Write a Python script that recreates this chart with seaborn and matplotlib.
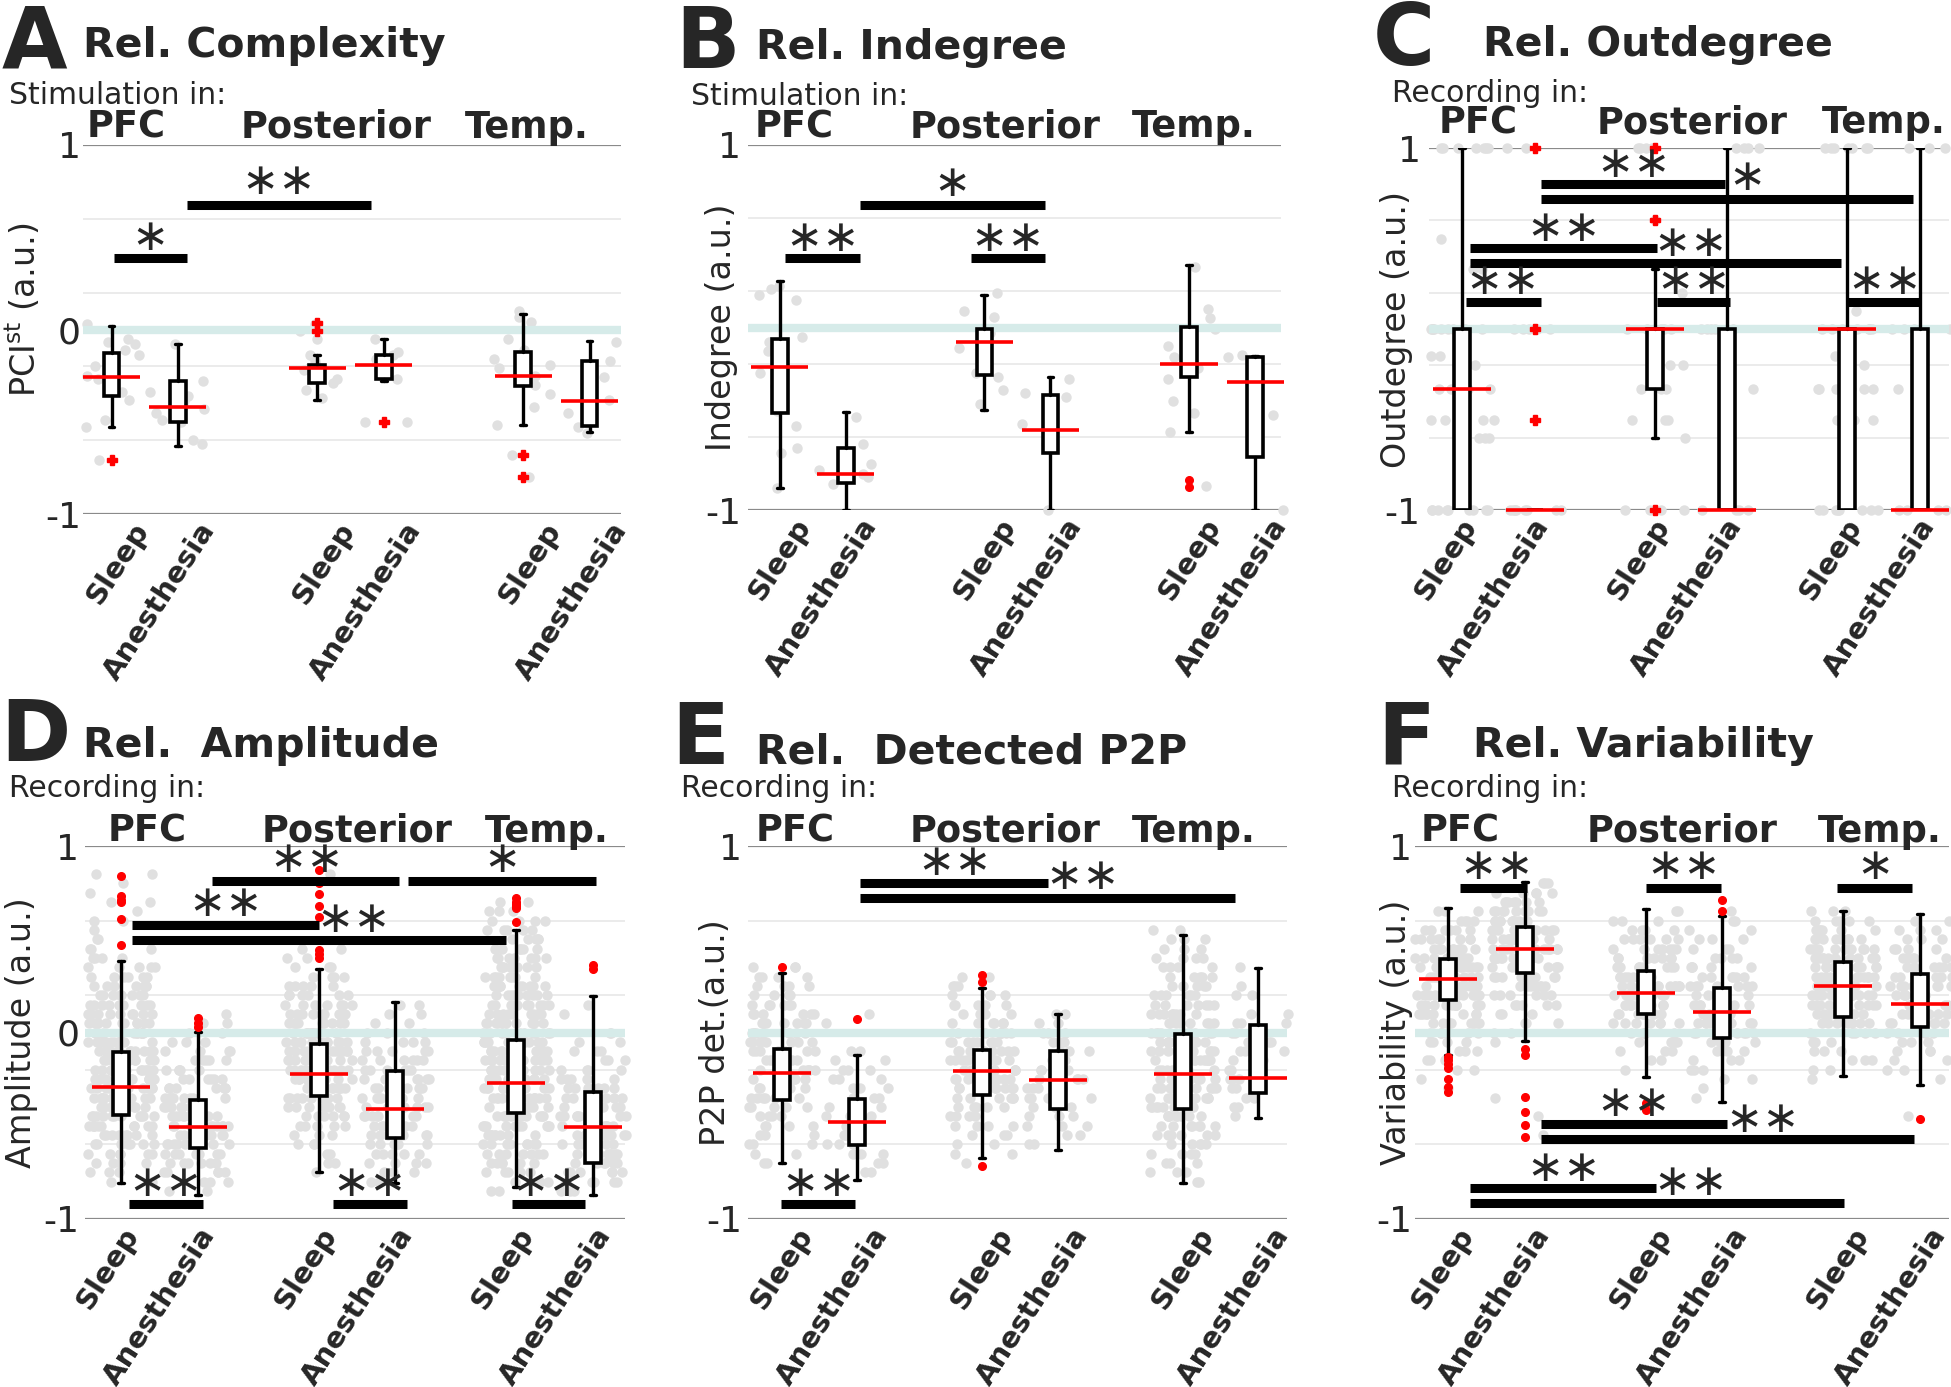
import numpy as np
import pandas as pd
import matplotlib
matplotlib.use("Agg")
import matplotlib.pyplot as plt
import seaborn as sns

W, H = 1951, 1387

CONDITIONS = ['Sleep', 'Anesthesia', 'Sleep', 'Anesthesia', 'Sleep', 'Anesthesia']
REGIONS = ['PFC', 'Posterior', 'Temp.']

# ---------------- A: Rel. Complexity (PCIst) ----------------
A_MED = [-0.26, -0.42, -0.21, -0.19, -0.25, -0.385]
A_Q1 = [-0.36, -0.50, -0.29, -0.27, -0.305, -0.525]
A_Q3 = [-0.13, -0.28, -0.19, -0.14, -0.12, -0.17]
A_WLO = [-0.53, -0.63, -0.38, -0.28, -0.52, -0.555]
A_WHI = [0.02, -0.08, -0.14, -0.05, 0.085, -0.06]
A_FLIERS = [[-0.71], [], [0.035, -0.01], [-0.50], [-0.68, -0.80], []]
A_DOTS = [
    [0.03, -0.05, -0.07, -0.11, -0.14, -0.18, -0.22, -0.25, -0.27, -0.31, -0.34, -0.38, -0.49, -0.53, -0.71, -0.08, -0.20],
    [-0.08, -0.28, -0.34, -0.39, -0.43, -0.49, -0.50, -0.62, -0.45, -0.32, -0.60, -0.36],
    [0.03, -0.01, -0.05, -0.14, -0.19, -0.21, -0.27, -0.29, -0.33, -0.37, -0.22, -0.17],
    [-0.05, -0.14, -0.16, -0.21, -0.27, -0.22, -0.50, -0.50, -0.12],
    [0.10, 0.07, 0.04, -0.11, -0.14, -0.16, -0.21, -0.25, -0.27, -0.30, -0.35, -0.42, -0.52, -0.68, -0.80, -0.05, -0.19],
    [-0.07, -0.17, -0.29, -0.38, -0.45, -0.53, -0.56, -0.26],
]
A_BARS = [(1.03, 2.13, 0.39, 1.58, 0.50, '*'), (2.13, 4.91, 0.677, 3.52, 0.80, '**')]

# ---------------- B: Rel. Indegree ----------------
B_MED = [-0.215, -0.805, -0.077, -0.56, -0.20, -0.30]
B_Q1 = [-0.47, -0.85, -0.26, -0.69, -0.27, -0.71]
B_Q3 = [-0.064, -0.66, -0.01, -0.37, 0.005, -0.16]
B_WLO = [-0.88, -1.0, -0.45, -1.0, -0.57, -1.0]
B_WHI = [0.254, -0.465, 0.18, -0.27, 0.34, -0.155]
B_FLIERS = [[], [], [], [], [-0.835, -0.875], []]
B_DOTS = [
    [0.23, 0.18, 0.21, -0.08, -0.13, -0.25, -0.32, -0.46, -0.54, -0.66, -0.69, -0.88, 0.15, -0.05],
    [-0.49, -0.64, -0.75, -0.78, -0.82, -0.86, -0.68, -0.80],
    [0.19, 0.09, 0.06, -0.11, -0.25, -0.34, -0.42, -0.03, -0.27],
    [-0.28, -0.38, -0.53, -0.64, -1.0, -0.36, -0.60],
    [0.33, 0.10, -0.01, -0.10, -0.16, -0.22, -0.28, -0.40, -0.47, -0.57, -0.87, 0.05],
    [-0.16, -0.20, -0.48, -1.0, -0.15],
]
B_BARS = [(1.08, 2.21, 0.38, 1.645, 0.49, '**'), (2.21, 5.02, 0.67, 3.6, 0.79, '*'),
          (3.89, 5.02, 0.38, 4.45, 0.49, '**')]

# ---------------- C: Rel. Outdegree (discrete levels, value/count) ----------------
C_MED = [-0.33, -1.0, 0.0, -1.0, 0.0, -1.0]
C_Q1 = [-1.0, -1.0, -0.33, -1.0, -1.0, -1.0]
C_Q3 = [0.0, -1.0, 0.0, 0.0, 0.0, 0.0]
C_WLO = [-1.0, -1.0, -0.6, -1.0, -1.0, -1.0]
C_WHI = [1.0, -1.0, 0.33, 1.0, 1.0, 1.0]
C_FLIERS = [[], [1.0, 0.0, -0.5], [1.0, 0.6, -1.0], [], [], []]
C_DOTS = [
    [(1, 7), (0.5, 1), (0.33, 2), (0, 9), (-0.15, 2), (-0.2, 3), (-0.33, 4), (-0.5, 4), (-0.6, 4), (-1, 9)],
    [(1, 2), (0, 6), (-1, 8)],
    [(1, 4), (0.6, 1), (0.2, 1), (0, 5), (-0.2, 2), (-0.33, 3), (-0.5, 3), (-0.6, 1), (-1, 4)],
    [(1, 4), (0, 5), (-0.33, 2), (-0.5, 1), (-1, 4)],
    [(1, 7), (0.1, 1), (0, 7), (-0.15, 1), (-0.2, 3), (-0.33, 6), (-0.5, 4), (-1, 8)],
    [(1, 3), (0, 4), (-0.33, 1), (-1, 4)],
]
C_BARS = [(2.08, 4.62, 0.80, 3.36, 0.91, '**'), (2.08, 7.21, 0.72, 4.92, 0.835, '*'),
          (1.11, 3.68, 0.448, 2.39, 0.553, '**'), (1.11, 6.22, 0.364, 4.15, 0.47, '**'),
          (1.05, 2.08, 0.148, 1.56, 0.26, '**'), (3.68, 4.69, 0.148, 4.19, 0.264, '**'),
          (6.30, 7.32, 0.148, 6.81, 0.264, '**')]

# ---------------- D: Rel. Amplitude (binned value/count) ----------------
D_MED = [-0.29, -0.505, -0.22, -0.41, -0.27, -0.505]
D_Q1 = [-0.44, -0.62, -0.34, -0.565, -0.43, -0.70]
D_Q3 = [-0.106, -0.36, -0.06, -0.205, -0.04, -0.32]
D_WLO = [-0.805, -0.87, -0.75, -0.805, -0.83, -0.87]
D_WHI = [0.383, 0.005, 0.343, 0.165, 0.55, 0.195]
D_FLIERS = [[0.84, 0.73, 0.71, 0.70, 0.61, 0.47], [0.08, 0.05, 0.03],
            [0.87, 0.80, 0.74, 0.68, 0.62, 0.44, 0.42, 0.40], [],
            [0.72, 0.70, 0.69, 0.68, 0.67, 0.59], [0.36, 0.34]]
D_DOTS = [
    [(0.85, 2), (0.8, 1), (0.75, 1), (0.7, 2), (0.65, 1), (0.6, 2), (0.55, 1), (0.5, 2), (0.45, 3), (0.4, 4),
     (0.35, 5), (0.3, 6), (0.25, 7), (0.2, 8), (0.15, 9), (0.1, 9), (0.05, 10), (0.0, 11), (-0.05, 11),
     (-0.1, 12), (-0.15, 12), (-0.2, 13), (-0.25, 13), (-0.3, 13), (-0.35, 12), (-0.4, 12), (-0.45, 11),
     (-0.5, 10), (-0.55, 9), (-0.6, 7), (-0.65, 6), (-0.7, 4), (-0.75, 3), (-0.8, 2)],
    [(0.1, 1), (0.05, 2), (0.0, 2), (-0.05, 3), (-0.1, 4), (-0.15, 5), (-0.2, 5), (-0.25, 6), (-0.3, 7),
     (-0.35, 8), (-0.4, 8), (-0.45, 9), (-0.5, 9), (-0.55, 9), (-0.6, 8), (-0.65, 8), (-0.7, 6), (-0.75, 5),
     (-0.8, 3), (-0.85, 2)],
    [(0.85, 1), (0.45, 2), (0.4, 2), (0.35, 3), (0.3, 4), (0.25, 5), (0.2, 6), (0.15, 7), (0.1, 8),
     (0.05, 9), (0.0, 10), (-0.05, 11), (-0.1, 11), (-0.15, 11), (-0.2, 11), (-0.25, 11), (-0.3, 10),
     (-0.35, 9), (-0.4, 7), (-0.45, 6), (-0.5, 5), (-0.55, 3), (-0.6, 3), (-0.65, 2), (-0.7, 2), (-0.75, 1)],
    [(0.15, 2), (0.1, 2), (0.05, 2), (0.0, 3), (-0.05, 4), (-0.1, 5), (-0.15, 6), (-0.2, 6), (-0.25, 7),
     (-0.3, 8), (-0.35, 8), (-0.4, 8), (-0.45, 8), (-0.5, 8), (-0.55, 7), (-0.6, 6), (-0.65, 5), (-0.7, 4),
     (-0.75, 3), (-0.8, 2)],
    [(0.7, 2), (0.65, 3), (0.6, 4), (0.55, 5), (0.5, 5), (0.45, 6), (0.4, 7), (0.35, 8), (0.3, 8),
     (0.25, 9), (0.2, 9), (0.15, 9), (0.1, 10), (0.05, 10), (0.0, 10), (-0.05, 11), (-0.1, 11), (-0.15, 11),
     (-0.2, 12), (-0.25, 12), (-0.3, 12), (-0.35, 12), (-0.4, 11), (-0.45, 11), (-0.5, 10), (-0.55, 9),
     (-0.6, 8), (-0.65, 7), (-0.7, 6), (-0.75, 5), (-0.8, 3), (-0.85, 2)],
    [(0.15, 1), (0.1, 1), (0.0, 2), (-0.05, 2), (-0.1, 3), (-0.15, 3), (-0.2, 4), (-0.25, 5), (-0.3, 6),
     (-0.35, 6), (-0.4, 7), (-0.45, 7), (-0.5, 7), (-0.55, 7), (-0.6, 7), (-0.65, 7), (-0.7, 6), (-0.75, 6),
     (-0.8, 5), (-0.85, 3)],
]
D_BARS = [(2.19, 4.63, 0.814, 3.42, 0.925, '**'), (4.75, 7.20, 0.814, 5.97, 0.925, '*'),
          (1.15, 3.58, 0.576, 2.37, 0.69, '**'), (1.15, 6.03, 0.496, 4.04, 0.607, '**'),
          (1.11, 2.07, -0.922, 1.58, -0.81, '**'), (3.77, 4.73, -0.922, 4.25, -0.81, '**'),
          (6.10, 7.06, -0.922, 6.58, -0.81, '**')]

# ---------------- E: Rel. Detected P2P ----------------
E_MED = [-0.216, -0.48, -0.205, -0.256, -0.224, -0.245]
E_Q1 = [-0.36, -0.605, -0.334, -0.41, -0.41, -0.327]
E_Q3 = [-0.09, -0.357, -0.094, -0.10, -0.01, 0.042]
E_WLO = [-0.70, -0.79, -0.675, -0.63, -0.805, -0.456]
E_WHI = [0.318, -0.12, 0.238, 0.10, 0.525, 0.348]
E_FLIERS = [[0.353], [0.07], [0.31, 0.27, -0.715], [], [], []]
E_DOTS = [
    [(0.35, 3), (0.3, 4), (0.25, 4), (0.2, 5), (0.15, 6), (0.1, 6), (0.05, 7), (0.0, 7), (-0.05, 7),
     (-0.1, 7), (-0.15, 7), (-0.2, 7), (-0.25, 7), (-0.3, 6), (-0.35, 6), (-0.4, 5), (-0.45, 4), (-0.5, 4),
     (-0.55, 3), (-0.6, 3), (-0.65, 2), (-0.7, 2)],
    [(0.1, 1), (0.05, 1), (-0.1, 2), (-0.15, 2), (-0.2, 3), (-0.25, 3), (-0.3, 3), (-0.35, 4), (-0.4, 4),
     (-0.45, 4), (-0.5, 4), (-0.55, 3), (-0.6, 3), (-0.65, 3), (-0.7, 2), (-0.75, 2)],
    [(0.3, 2), (0.25, 3), (0.2, 4), (0.15, 5), (0.1, 5), (0.05, 6), (0.0, 7), (-0.05, 8), (-0.1, 8),
     (-0.15, 8), (-0.2, 8), (-0.25, 8), (-0.3, 7), (-0.35, 6), (-0.4, 5), (-0.45, 4), (-0.5, 4), (-0.55, 3),
     (-0.6, 2), (-0.65, 2), (-0.7, 1)],
    [(0.1, 2), (0.05, 2), (0.0, 3), (-0.05, 3), (-0.1, 3), (-0.15, 4), (-0.2, 4), (-0.25, 4), (-0.3, 4),
     (-0.35, 4), (-0.4, 4), (-0.45, 3), (-0.5, 3), (-0.55, 2), (-0.6, 2)],
    [(0.55, 2), (0.5, 3), (0.45, 3), (0.4, 4), (0.35, 4), (0.3, 5), (0.25, 5), (0.2, 6), (0.15, 7),
     (0.1, 8), (0.05, 8), (0.0, 9), (-0.05, 9), (-0.1, 9), (-0.15, 10), (-0.2, 10), (-0.25, 10), (-0.3, 10),
     (-0.35, 9), (-0.4, 9), (-0.45, 8), (-0.5, 7), (-0.55, 6), (-0.6, 5), (-0.65, 4), (-0.7, 3), (-0.75, 3),
     (-0.8, 2)],
    [(0.35, 1), (0.25, 1), (0.2, 2), (0.1, 2), (0.05, 3), (0.0, 3), (-0.05, 3), (-0.1, 3), (-0.15, 3),
     (-0.2, 3), (-0.25, 3), (-0.3, 3), (-0.35, 2), (-0.4, 2), (-0.45, 1)],
]
E_BARS = [(2.04, 4.53, 0.80, 3.29, 0.913, '**'), (2.04, 7.02, 0.72, 4.99, 0.835, '**'),
          (0.99, 1.97, -0.922, 1.48, -0.81, '**')]

# ---------------- F: Rel. Variability ----------------
F_MED = [0.289, 0.449, 0.212, 0.108, 0.247, 0.155]
F_Q1 = [0.176, 0.32, 0.099, -0.028, 0.085, 0.028]
F_Q3 = [0.395, 0.567, 0.332, 0.238, 0.376, 0.313]
F_WLO = [-0.122, -0.047, -0.24, -0.374, -0.235, -0.28]
F_WHI = [0.666, 0.807, 0.661, 0.626, 0.654, 0.635]
F_FLIERS = [[-0.13, -0.15, -0.17, -0.19, -0.25, -0.29, -0.32],
            [-0.087, -0.118, -0.346, -0.428, -0.494, -0.558],
            [-0.376, -0.416], [0.713, 0.654], [], [-0.464]]
F_DOTS = [
    [(0.65, 3), (0.6, 4), (0.55, 6), (0.5, 8), (0.45, 9), (0.4, 11), (0.35, 12), (0.3, 12), (0.25, 12),
     (0.2, 12), (0.15, 11), (0.1, 9), (0.05, 8), (0.0, 6), (-0.05, 4), (-0.1, 3), (-0.15, 3), (-0.2, 2),
     (-0.25, 1), (-0.3, 1)],
    [(0.8, 3), (0.75, 5), (0.7, 7), (0.65, 9), (0.6, 11), (0.55, 12), (0.5, 12), (0.45, 12), (0.4, 11),
     (0.35, 10), (0.3, 8), (0.25, 7), (0.2, 6), (0.15, 5), (0.1, 3), (0.05, 3), (0.0, 2), (-0.05, 1),
     (-0.35, 1), (-0.45, 1), (-0.55, 1)],
    [(0.65, 2), (0.6, 3), (0.55, 4), (0.5, 6), (0.45, 7), (0.4, 8), (0.35, 9), (0.3, 10), (0.25, 10),
     (0.2, 10), (0.15, 9), (0.1, 8), (0.05, 7), (0.0, 5), (-0.05, 4), (-0.1, 3), (-0.15, 2), (-0.2, 1)],
    [(0.65, 1), (0.6, 2), (0.55, 2), (0.5, 3), (0.45, 3), (0.4, 4), (0.35, 5), (0.3, 6), (0.25, 7),
     (0.2, 7), (0.15, 7), (0.1, 7), (0.05, 7), (0.0, 6), (-0.05, 5), (-0.1, 4), (-0.15, 3), (-0.2, 3),
     (-0.25, 2), (-0.3, 1), (-0.35, 1)],
    [(0.65, 3), (0.6, 5), (0.55, 7), (0.5, 8), (0.45, 10), (0.4, 11), (0.35, 12), (0.3, 12), (0.25, 12),
     (0.2, 11), (0.15, 10), (0.1, 8), (0.05, 7), (0.0, 5), (-0.05, 4), (-0.1, 3), (-0.15, 3), (-0.2, 2),
     (-0.25, 1)],
    [(0.6, 2), (0.55, 3), (0.5, 3), (0.45, 4), (0.4, 5), (0.35, 6), (0.3, 6), (0.25, 7), (0.2, 7),
     (0.15, 7), (0.1, 6), (0.05, 5), (0.0, 4), (-0.05, 3), (-0.1, 3), (-0.15, 2), (-0.2, 2), (-0.25, 1),
     (-0.45, 1)],
]
F_BARS = [(1.16, 2.03, 0.776, 1.64, 0.89, '**'), (3.59, 4.56, 0.776, 4.07, 0.89, '**'),
          (6.08, 7.05, 0.776, 6.57, 0.89, '*'), (2.21, 4.64, -0.49, 3.42, -0.38, '**'),
          (2.21, 7.08, -0.57, 5.10, -0.464, '**'), (1.29, 3.72, -0.835, 2.51, -0.727, '**'),
          (1.29, 6.17, -0.915, 4.17, -0.805, '**')]

# layout, in pixels of the 1951x1387 figure
LAYOUT = {
    'A': dict(rect=(83, 621, 145, 514), first=112, last=598, gap=2.1, letter=(2, 67), title=(83, 57),
              sub=(9, 104), head=((87, 241, 465), 138), ylab=43, ylab_dy=-20, pad=1.5, lab_dx=32, zero=True),
    'B': dict(rect=(748, 1281, 145, 510), first=780, last=1260, gap=2.1, letter=(675, 68), title=(756, 59),
              sub=(691, 105), head=((755, 910, 1132), 137), ylab=738, ylab_dy=0, pad=5, lab_dx=26, zero=False),
    'C': dict(rect=(1429, 1949, 148, 510), first=1462, last=1920, gap=1.65, letter=(1373, 65), title=(1483, 56),
              sub=(1392, 102), head=((1439, 1597, 1822), 133), ylab=1413, ylab_dy=0, pad=6, lab_dx=9,
              zero=False),
    'D': dict(rect=(85, 625, 846, 1219), first=121, last=593, gap=1.58, letter=(0, 761), title=(83, 757),
              sub=(9, 797), head=((108, 262, 485), 842), ylab=38, ylab_dy=0, pad=4, lab_dx=12, zero=True),
    'E': dict(rect=(748, 1287, 846, 1219), first=782, last=1258, gap=1.66, letter=(671, 764), title=(756, 764),
              sub=(681, 797), head=((756, 910, 1132), 842), ylab=732, ylab_dy=0, pad=4, lab_dx=25, zero=False),
    'F': dict(rect=(1415, 1949, 846, 1219), first=1448, last=1920, gap=1.58, letter=(1377, 764), title=(1473, 757),
              sub=(1392, 797), head=((1421, 1587, 1818), 842), ylab=1413, ylab_dy=0, pad=2, lab_dx=20,
              zero=False),
}


def expand(pairs):
    vals = []
    for level, count in pairs:
        vals += [level] * count
    return vals


sns.set_style('white')
plt.rcParams['font.family'] = ['DejaVu Sans']
np.random.seed(7)

fig = plt.figure(figsize=(W / 100, H / 100), dpi=100)


def ftext(x, y, s, **kw):
    fig.text(x / W, 1 - y / H, s, va='baseline', ha='left', **kw)


def draw_panel(key, med, q1, q3, wlo, whi, fliers, dots, bars, title, sub, ylabel, flier_marker='o'):
    L = LAYOUT[key]
    left, right, top, bottom = L['rect']
    ax = fig.add_axes([left / W, 1 - bottom / H, (right - left) / W, (bottom - top) / H])
    g = L['gap']
    pos = np.array([1, 2, 2 + g, 3 + g, 3 + 2 * g, 4 + 2 * g])
    unit = (L['last'] - L['first']) / (pos[-1] - pos[0])

    # grey individual values
    vals = [expand(d) if isinstance(d[0], tuple) else d for d in dots]
    df = pd.DataFrame({'pos': np.repeat(pos, [len(v) for v in vals]),
                       'val': np.concatenate(vals)})
    sns.stripplot(data=df, x='pos', y='val', native_scale=True, orient='x', jitter=0.44,
                  color='#e0e0e0', size=7.5, linewidth=0, zorder=1, clip_on=False, ax=ax, legend=False)

    for yv in [0.6, 0.2, -0.2, -0.6]:
        ax.axhline(yv, color='#e8e8e8', lw=1.2, zorder=0)
    for yv in [1, -1]:
        ax.axhline(yv, color='#8a8a8a', lw=1.6, zorder=0.5)
    ax.axhline(0, color='#d6ebe9', lw=6, zorder=1.5)

    stats = [dict(med=m, q1=a, q3=b, whislo=lo, whishi=hi, fliers=fl)
             for m, a, b, lo, hi, fl in zip(med, q1, q3, wlo, whi, fliers)]
    fsize = 7 if flier_marker == 'P' else 5.5
    ax.bxp(stats, positions=pos, widths=16 / unit, capwidths=6 / unit, patch_artist=True,
           manage_ticks=False, zorder=3,
           boxprops=dict(facecolor='white', edgecolor='black', linewidth=2.6),
           whiskerprops=dict(color='black', linewidth=2.4),
           capprops=dict(color='black', linewidth=2.4),
           medianprops=dict(linewidth=0),
           flierprops=dict(marker=flier_marker, markerfacecolor='red', markeredgecolor='red',
                           markersize=fsize, clip_on=False))
    hw = 29 / unit
    ax.hlines(med, pos - hw, pos + hw, colors='red', lw=2.6, zorder=4, clip_on=False)

    for x0, x1, y, lx, ly, lab in bars:
        ax.plot([x0, x1], [y, y], color='black', lw=6.5, solid_capstyle='butt', zorder=5)
        ax.text(lx, ly, lab.replace('*', '\u2217'), ha='center', va='center', fontsize=32, zorder=6)

    ax.set_xlim(1 - (L['first'] - left) / unit, pos[-1] + (right - L['last']) / unit)
    ax.set_ylim(-1, 1)
    # tick labels sit slightly right of the box centres, as in the original layout
    ax.set_xticks(pos + L['lab_dx'] / unit)
    ax.set_xticklabels(CONDITIONS, rotation=57, ha='right', va='center', rotation_mode='anchor',
                       fontweight='bold', fontsize=21)
    if L['zero']:
        ax.set_yticks([-1, 0, 1])
        ax.set_yticklabels(['-1', '0', '1'], fontsize=26)
    else:
        ax.set_yticks([-1, 1])
        ax.set_yticklabels(['-1', '1'], fontsize=26)
    ax.tick_params(axis='both', length=0)
    ax.tick_params(axis='y', pad=L['pad'])
    ax.tick_params(axis='x', pad=8)
    for sp in ax.spines.values():
        sp.set_visible(False)
    ax.set_xlabel('')
    ax.set_ylabel(ylabel, fontsize=24)
    ax.yaxis.set_label_coords(L['ylab'] / W, 1 - ((top + bottom) / 2 + L['ylab_dy']) / H,
                              transform=fig.transFigure)

    ftext(*L['letter'], key, fontsize=61, fontweight='bold')
    ftext(*L['title'], title, fontsize=29.5, fontweight='bold')
    ftext(*L['sub'], sub, fontsize=21.5)
    hx, hy = L['head']
    for x, name in zip(hx, REGIONS):
        ftext(x, hy, name, fontsize=26.5, fontweight='bold')
    return ax


draw_panel('A', A_MED, A_Q1, A_Q3, A_WLO, A_WHI, A_FLIERS, A_DOTS, A_BARS,
           'Rel. Complexity', 'Stimulation in:', r'PCI$^{\mathrm{st}}$ (a.u.)', flier_marker='P')
draw_panel('B', B_MED, B_Q1, B_Q3, B_WLO, B_WHI, B_FLIERS, B_DOTS, B_BARS,
           'Rel. Indegree', 'Stimulation in:', 'Indegree (a.u.)')
draw_panel('C', C_MED, C_Q1, C_Q3, C_WLO, C_WHI, C_FLIERS, C_DOTS, C_BARS,
           'Rel. Outdegree', 'Recording in:', 'Outdegree (a.u.)', flier_marker='P')
draw_panel('D', D_MED, D_Q1, D_Q3, D_WLO, D_WHI, D_FLIERS, D_DOTS, D_BARS,
           'Rel.  Amplitude', 'Recording in:', 'Amplitude (a.u.)')
draw_panel('E', E_MED, E_Q1, E_Q3, E_WLO, E_WHI, E_FLIERS, E_DOTS, E_BARS,
           'Rel.  Detected P2P', 'Recording in:', 'P2P det.(a.u.)')
draw_panel('F', F_MED, F_Q1, F_Q3, F_WLO, F_WHI, F_FLIERS, F_DOTS, F_BARS,
           'Rel. Variability', 'Recording in:', 'Variability (a.u.)')

fig.savefig('out.png', dpi=100)
